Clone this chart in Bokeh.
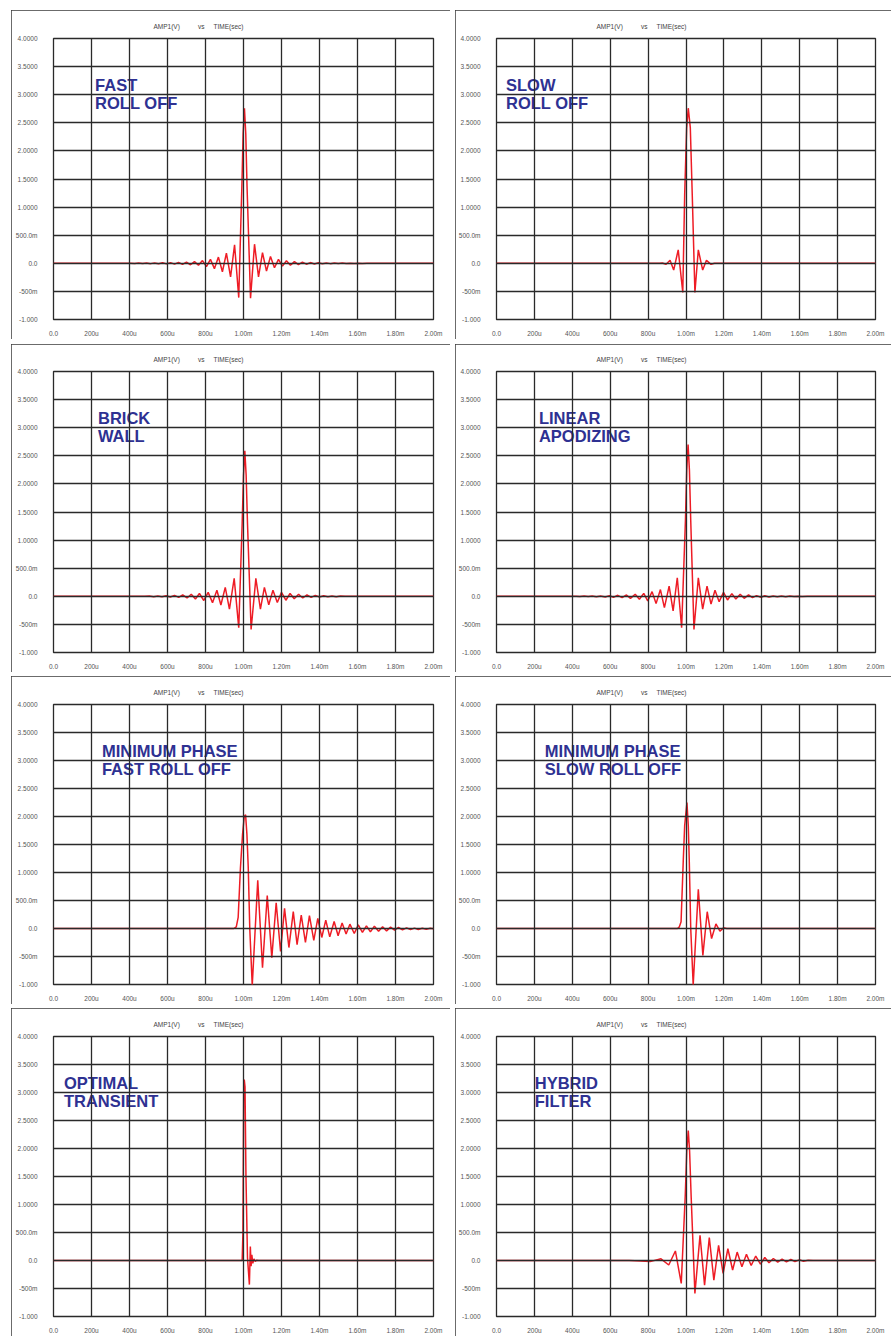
from bokeh.plotting import figure
from bokeh.models import FixedTicker, Spacer, Label
from bokeh.layouts import row, column
from bokeh.embed import file_html
from bokeh.resources import INLINE

# ---------------- axis ticks / texts ----------------
X_TICKS = [0.0, 0.2, 0.4, 0.6, 0.8, 1.0, 1.2, 1.4, 1.6, 1.8, 2.0]
X_TICK_LABELS = ["0.0", "200u", "400u", "600u", "800u", "1.00m", "1.20m",
                 "1.40m", "1.60m", "1.80m", "2.00m"]
Y_TICKS = [-1.0, -0.5, 0.0, 0.5, 1.0, 1.5, 2.0, 2.5, 3.0, 3.5, 4.0]
Y_TICK_LABELS = ["-1.000", "-500m", "0.0", "500.0m", "1.0000", "1.5000",
                 "2.0000", "2.5000", "3.0000", "3.5000", "4.0000"]
TITLE_PARTS = ["AMP1(V)", "vs", "TIME(sec)"]

# ---------------- data: time (ms) / amplitude (V) ----------------
fro_t = [0.0, 0.38, 0.406, 0.427, 0.448, 0.469, 0.490, 0.511, 0.532, 0.553, 0.574,
         0.595, 0.616, 0.637, 0.658, 0.679, 0.700, 0.721, 0.742, 0.763, 0.784,
         0.805, 0.826, 0.847, 0.868, 0.889, 0.910, 0.932, 0.953, 0.975,
         0.9915, 0.998, 1.005, 1.012, 1.0185,
         1.037, 1.058, 1.079, 1.100, 1.121, 1.142, 1.163, 1.184, 1.205, 1.226,
         1.247, 1.268, 1.289, 1.310, 1.331, 1.352, 1.373, 1.394, 1.415, 1.436,
         1.457, 1.478, 1.499, 1.520, 1.541, 1.562, 1.583, 1.604, 1.625, 1.65, 2.0]
fro_v = [0.0, 0.0, 0.003, -0.004, 0.004, -0.005, 0.005, -0.006, 0.007, -0.008, 0.009,
         -0.010, 0.012, -0.014, 0.016, -0.020, 0.022, -0.026, 0.030, -0.036, 0.048,
         -0.060, 0.070, -0.095, 0.110, -0.150, 0.180, -0.240, 0.330, -0.610,
         1.38, 2.30, 2.76, 2.30, 1.38,
         -0.620, 0.340, -0.240, 0.190, -0.140, 0.120, -0.080, 0.070, -0.050, 0.045,
         -0.035, 0.030, -0.024, 0.020, -0.016, 0.013, -0.011, 0.009, -0.008, 0.007,
         -0.006, 0.005, -0.005, 0.004, -0.004, 0.003, -0.003, 0.002, -0.002, 0.0, 0.0]

sro_t = [0.0, 0.86, 0.875, 0.895, 0.916, 0.935, 0.959, 0.983, 0.993, 1.0035, 1.012,
         1.0228, 1.033, 1.047, 1.065, 1.088, 1.108, 1.132, 1.15, 2.0]
sro_v = [0.0, 0.0, 0.005, -0.018, 0.053, -0.12, 0.24, -0.52, 1.22, 2.41, 2.76,
         2.41, 1.22, -0.52, 0.24, -0.12, 0.053, -0.018, 0.0, 0.0]

bw_t = [0.0, 0.48, 0.505, 0.527, 0.549, 0.571, 0.593, 0.615, 0.637, 0.659, 0.680,
        0.703, 0.725, 0.747, 0.768, 0.791, 0.814, 0.837, 0.860, 0.881, 0.904,
        0.926, 0.951, 0.975,
        0.993, 1.000, 1.007, 1.014, 1.021,
        1.040, 1.065, 1.089, 1.110, 1.133, 1.155, 1.178, 1.200, 1.223, 1.245,
        1.267, 1.290, 1.312, 1.334, 1.356, 1.378, 1.400, 1.422, 1.444, 1.466,
        1.488, 1.510, 1.535, 2.0]
bw_v = [0.0, 0.0, 0.004, -0.006, 0.007, -0.009, 0.011, -0.013, 0.016, -0.020, 0.024,
        -0.030, 0.036, -0.048, 0.050, -0.075, 0.070, -0.113, 0.107, -0.155, 0.160,
        -0.230, 0.320, -0.560,
        1.30, 2.15, 2.59, 2.15, 1.30,
        -0.590, 0.320, -0.230, 0.160, -0.150, 0.107, -0.110, 0.070, -0.070, 0.050,
        -0.045, 0.036, -0.030, 0.024, -0.020, 0.016, -0.013, 0.011, -0.009, 0.007,
        -0.006, 0.004, 0.0, 0.0]

la_t = [0.0, 0.40, 0.42, 0.44, 0.462, 0.484, 0.505, 0.527, 0.549, 0.574, 0.596,
        0.617, 0.640, 0.663, 0.686, 0.707, 0.732, 0.754, 0.777, 0.798, 0.821,
        0.842, 0.865, 0.886, 0.911, 0.932, 0.954, 0.977,
        0.997, 1.004, 1.011, 1.018, 1.025,
        1.042, 1.065, 1.088, 1.111, 1.132, 1.153, 1.175, 1.198, 1.219, 1.242,
        1.263, 1.286, 1.307, 1.330, 1.351, 1.372, 1.395, 1.416, 1.438, 1.460,
        1.482, 1.504, 1.526, 1.548, 1.570, 1.592, 1.614, 1.64, 2.0]
la_v = [0.0, 0.0, 0.002, -0.003, 0.004, -0.005, 0.005, -0.008, 0.006, -0.012, 0.012,
        -0.018, 0.018, -0.024, 0.024, -0.036, 0.036, -0.053, 0.053, -0.083, 0.083,
        -0.130, 0.120, -0.200, 0.180, -0.260, 0.330, -0.560,
        1.35, 2.25, 2.70, 2.25, 1.35,
        -0.590, 0.330, -0.230, 0.180, -0.140, 0.107, -0.095, 0.071, -0.065, 0.048,
        -0.048, 0.036, -0.036, 0.024, -0.024, 0.012, -0.018, 0.009, -0.012, 0.007,
        -0.008, 0.005, -0.006, 0.004, -0.004, 0.003, -0.002, 0.0, 0.0]

mpf_t = [0.0, 0.949, 0.962, 0.972, 0.984, 0.995, 1.004, 1.011, 1.018, 1.025, 1.033,
         1.046, 1.075, 1.100, 1.125, 1.149, 1.172, 1.195, 1.216, 1.239, 1.262,
         1.282, 1.304, 1.326, 1.347, 1.370, 1.391, 1.412, 1.433, 1.454, 1.477,
         1.498, 1.519, 1.540, 1.560, 1.583, 1.604, 1.626, 1.647, 1.668, 1.689,
         1.711, 1.732, 1.753, 1.774, 1.795, 1.816, 1.837, 1.858, 1.879, 1.900,
         1.920, 1.941, 1.962, 1.983, 2.0]
mpf_v = [0.0, 0.0, 0.03, 0.20, 1.09, 1.68, 2.00, 2.03, 1.68, 1.09, 0.0,
         -1.02, 0.86, -0.70, 0.59, -0.52, 0.46, -0.41, 0.36, -0.34, 0.30,
         -0.29, 0.24, -0.25, 0.23, -0.21, 0.18, -0.16, 0.15, -0.15, 0.125,
         -0.13, 0.10, -0.10, 0.077, -0.09, 0.065, -0.07, 0.048, -0.06, 0.042,
         -0.048, 0.030, -0.042, 0.024, -0.030, 0.018, -0.024, 0.012, -0.018, 0.006,
         -0.018, 0.004, -0.012, 0.003, -0.006]

mps_t = [0.0, 0.955, 0.965, 0.974, 0.986, 0.993, 1.005, 1.012, 1.017, 1.025, 1.038,
         1.065, 1.089, 1.112, 1.135, 1.158, 1.179, 1.198, 1.215, 2.0]
mps_v = [0.0, 0.0, 0.03, 0.12, 1.25, 1.84, 2.25, 1.84, 1.25, 0.0, -1.01,
         0.70, -0.48, 0.30, -0.18, 0.083, -0.048, 0.012, 0.0, 0.0]

ot_t = [0.0, 0.993, 0.997, 1.001, 1.004, 1.008, 1.013, 1.021, 1.031, 1.036, 1.040,
        1.044, 1.049, 1.055, 1.062, 1.070, 1.080, 2.0]
ot_v = [0.0, 0.0, 0.5, 3.0, 3.23, 3.10, 1.50, 0.05, -0.43, 0.25, -0.10,
        0.10, -0.05, 0.03, -0.015, 0.005, 0.0, 0.0]

hy_t = [0.0, 0.70, 0.76, 0.81, 0.868, 0.909, 0.944, 0.975,
        0.996, 1.004, 1.012, 1.019, 1.027,
        1.047, 1.074, 1.098, 1.123, 1.147, 1.172, 1.196, 1.221, 1.246, 1.270,
        1.295, 1.319, 1.344, 1.368, 1.393, 1.416, 1.438, 1.461, 1.484, 1.507,
        1.530, 1.553, 1.575, 1.598, 1.620, 1.645, 1.67, 2.0]
hy_v = [0.0, 0.0, -0.008, -0.02, 0.03, -0.08, 0.17, -0.41,
        1.16, 1.95, 2.32, 1.95, 1.16,
        -0.59, 0.45, -0.44, 0.41, -0.35, 0.27, -0.23, 0.21, -0.17, 0.15,
        -0.11, 0.11, -0.09, 0.08, -0.065, 0.053, -0.04, 0.036, -0.03, 0.024,
        -0.024, 0.018, -0.018, 0.012, -0.012, 0.006, 0.0, 0.0]

PANEL_LABELS = [["FAST", "ROLL OFF"], ["SLOW", "ROLL OFF"],
                ["BRICK", "WALL"], ["LINEAR", "APODIZING"],
                ["MINIMUM PHASE", "FAST ROLL OFF"], ["MINIMUM PHASE", "SLOW ROLL OFF"],
                ["OPTIMAL", "TRANSIENT"], ["HYBRID", "FILTER"]]
LABEL_X = [0.219, 0.050, 0.234, 0.224, 0.255, 0.255, 0.055, 0.202]
LABEL_Y = [3.17, 2.85]
SERIES = [(fro_t, fro_v), (sro_t, sro_v), (bw_t, bw_v), (la_t, la_v),
          (mpf_t, mpf_v), (mps_t, mps_v), (ot_t, ot_v), (hy_t, hy_v)]

GRID_COLOR = "#2a2a2a"
CURVE_COLOR = "#ee1c25"
LABEL_COLOR = "#2e3192"
SMALL_FONT = "Liberation Sans"
NB = "\u00a0"

# per-row geometry: (panel height, top border, bottom border)
ROW_GEOM = [(329, 28, 20), (328, 27, 20), (328, 28, 19), (328, 28, 19)]
ROW_GAPS = [5, 4, 4]


def make_panel(t, v, lines, lx, left, geom):
    h, top, bottom = geom
    p = figure(width=439 if left else 436, height=h,
               x_range=(0.0, 2.0), y_range=(-1.0, 4.0),
               output_backend="svg", toolbar_location=None,
               min_border_left=42 if left else 40,
               min_border_right=17 if left else 16,
               min_border_top=top, min_border_bottom=bottom,
               background_fill_color="white", border_fill_color="white",
               styles={"outline": "1px solid #3a3a3a", "outline-offset": "-1px"})
    p.line(t, v, line_color=CURVE_COLOR, line_width=1.5)

    # title "AMP1(V)   vs   TIME(sec)"
    p.title.text = TITLE_PARTS[0] + NB * 10 + TITLE_PARTS[1] + NB * 5 + TITLE_PARTS[2]
    p.title.align = "left"
    p.title.offset = 100
    p.title.standoff = 18
    p.title.text_font = SMALL_FONT
    p.title.text_font_size = "6.5px"
    p.title.text_font_style = "normal"
    p.title.text_color = "#444444"

    p.xaxis.ticker = FixedTicker(ticks=X_TICKS)
    p.xaxis.major_label_overrides = dict(zip(X_TICKS, X_TICK_LABELS))
    p.yaxis.ticker = FixedTicker(ticks=Y_TICKS)
    p.yaxis.major_label_overrides = dict(zip(Y_TICKS, Y_TICK_LABELS))
    for ax in (p.xaxis[0], p.yaxis[0]):
        ax.axis_line_color = None
        ax.major_tick_line_color = None
        ax.minor_tick_line_color = None
        ax.major_tick_out = 0
        ax.major_tick_in = 0
        ax.minor_tick_out = 0
        ax.minor_tick_in = 0
        ax.major_label_text_font = SMALL_FONT
        ax.major_label_text_font_size = "6.5px"
        ax.major_label_text_color = "#555555"
    p.xaxis.major_label_standoff = 10
    p.yaxis.major_label_standoff = 16

    p.xgrid.ticker = FixedTicker(ticks=X_TICKS)
    p.ygrid.ticker = FixedTicker(ticks=Y_TICKS)
    p.grid.grid_line_color = GRID_COLOR
    p.grid.grid_line_width = 1.3
    p.grid.level = "overlay"
    p.outline_line_color = GRID_COLOR
    p.outline_line_width = 1.3

    for txt, yy in zip(lines, LABEL_Y):
        p.add_layout(Label(x=lx, y=yy, text=txt, text_font="Liberation Sans",
                           text_font_style="bold", text_font_size="16.5px",
                           text_color=LABEL_COLOR, text_baseline="alphabetic"))
    return p


panels = [make_panel(SERIES[i][0], SERIES[i][1], PANEL_LABELS[i], LABEL_X[i],
                     i % 2 == 0, ROW_GEOM[i // 2])
          for i in range(8)]

children = [Spacer(width=10, height=10)]
for r in range(4):
    if r > 0:
        children.append(Spacer(width=10, height=ROW_GAPS[r - 1]))
    children.append(row(Spacer(width=11, height=10), panels[2 * r],
                        Spacer(width=5, height=10), panels[2 * r + 1]))
layout = column(*children)

open("out.html", "w").write(file_html(layout, INLINE))
